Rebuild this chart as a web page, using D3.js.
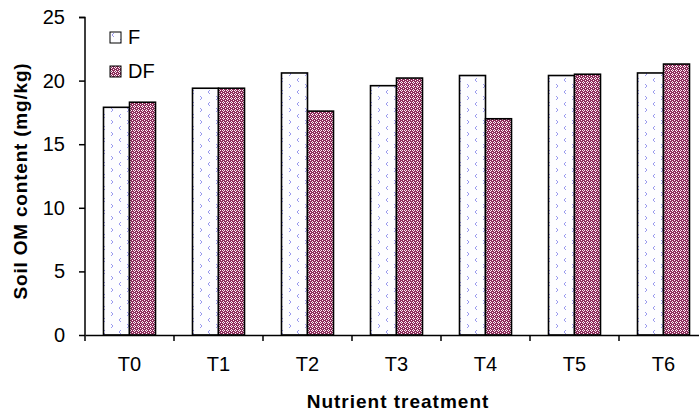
<!DOCTYPE html>
<html>
<head>
<meta charset="utf-8">
<script src="https://cdn.jsdelivr.net/npm/d3@7"></script>
<style>
  body { margin: 0; background: #fff; }
  text { font-family: "Liberation Sans", Arial, sans-serif; }
</style>
</head>
<body>
<svg id="chart" width="699" height="411"></svg>
<script>
// data
var categories = ['T0', 'T1', 'T2', 'T3', 'T4', 'T5', 'T6'];
var seriesF  = [17.9, 19.4, 20.6, 19.6, 20.4, 20.4, 20.6];
var seriesDF = [18.3, 19.4, 17.6, 20.2, 17.0, 20.5, 21.3];
var seriesNames = ['F', 'DF'];
var yTicks = [0, 5, 10, 15, 20, 25];

var margin = {top: 17, right: -9, bottom: 76, left: 85}
  , width = 699
  , height = 411
  , innerW = width - margin.left - margin.right
  , innerH = height - margin.top - margin.bottom;

var svg = d3.select('#chart');
var defs = svg.append('defs');

// dotted chevron fill for F
var pF = defs.append('pattern').attr('id', 'patF')
    .attr('patternUnits', 'userSpaceOnUse').attr('width', 16).attr('height', 12);
pF.append('rect').attr('width', 16).attr('height', 12).attr('fill', '#fdfdff');
pF.append('path').attr('d', 'M4,1 L2,3 L4,5').attr('fill', 'none').attr('stroke', '#9a9aee').attr('stroke-width', 1);
pF.append('path').attr('d', 'M10,7 L12,9 L10,11').attr('fill', 'none').attr('stroke', '#9a9aee').attr('stroke-width', 1);

// checker fill for DF: maroon with small white crosses
var pD = defs.append('pattern').attr('id', 'patDF')
    .attr('patternUnits', 'userSpaceOnUse').attr('width', 4).attr('height', 4);
pD.append('rect').attr('width', 4).attr('height', 4).attr('fill', '#8e2d5c');
[[1, 0], [0, 1], [2, 1], [1, 2], [3, 3]].forEach(function (p) {
  pD.append('rect').attr('x', p[0]).attr('y', p[1]).attr('width', 1).attr('height', 1).attr('fill', '#fff4f8');
});

var fills = ['url(#patF)', 'url(#patDF)'];

var g = svg.append('g').attr('transform', 'translate(' + margin.left + ',' + margin.top + ')');

var x = d3.scaleBand().domain(categories).range([0, innerW]).paddingInner(0).paddingOuter(0);
var xs = d3.scaleBand().domain(seriesNames).range([x.bandwidth() / 2 - 26, x.bandwidth() / 2 + 26]);
var y = d3.scaleLinear().domain([0, 25]).range([innerH, 0]);

// bars
var rows = categories.map(function (c, i) { return {cat: c, vals: [seriesF[i], seriesDF[i]]}; });
var groups = g.selectAll('.grp').data(rows).enter().append('g')
    .attr('transform', function (d) { return 'translate(' + x(d.cat) + ',0)'; });
groups.selectAll('rect').data(function (d) { return d.vals; }).enter().append('rect')
    .attr('x', function (d, i) { return xs(seriesNames[i]); })
    .attr('width', xs.bandwidth())
    .attr('y', function (d) { return y(d); })
    .attr('height', function (d) { return innerH - y(d); })
    .attr('fill', function (d, i) { return fills[i]; })
    .attr('stroke', '#000')
    .attr('stroke-width', 1.6);

// y axis
var yAxis = g.append('g')
    .call(d3.axisLeft(y).tickValues(yTicks).tickSize(6).tickPadding(14).tickFormat(d3.format('d')));
yAxis.select('.domain').attr('stroke', '#000').attr('stroke-width', 1.5).attr('d', 'M-6,0.5H0V' + innerH);
yAxis.selectAll('text').attr('font-size', 20).attr('fill', '#000');
yAxis.selectAll('line').attr('stroke-width', 1.5);

// x axis with ticks between categories
var xAxis = g.append('g').attr('transform', 'translate(0,' + innerH + ')')
    .call(d3.axisBottom(x).tickSize(0).tickPadding(22));
xAxis.select('.domain').attr('stroke', '#000').attr('stroke-width', 1.5);
xAxis.selectAll('text').attr('font-size', 20).attr('fill', '#000');
xAxis.selectAll('.sep').data(categories).enter().append('line')
    .attr('x1', function (d) { return x(d); }).attr('x2', function (d) { return x(d); })
    .attr('y1', 0).attr('y2', 6).attr('stroke', '#000').attr('stroke-width', 1.5);

// axis titles
svg.append('text')
    .attr('x', 398).attr('y', 408)
    .attr('text-anchor', 'middle')
    .attr('font-size', 19).attr('font-weight', 'bold')
    .attr('letter-spacing', 1)
    .text('Nutrient treatment');
svg.append('text')
    .attr('transform', 'translate(27,181) rotate(-90)')
    .attr('text-anchor', 'middle')
    .attr('font-size', 19).attr('font-weight', 'bold')
    .attr('letter-spacing', 0.8)
    .text('Soil OM content (mg/kg)');

// legend
var legend = svg.append('g').attr('transform', 'translate(110,32)');
var item = legend.selectAll('g').data(seriesNames).enter().append('g')
    .attr('transform', function (d, i) { return 'translate(0,' + (i * 34) + ')'; });
item.append('rect').attr('width', 11).attr('height', 11)
    .attr('fill', function (d, i) { return fills[i]; })
    .attr('stroke', '#000').attr('stroke-width', 1);
item.append('text').attr('x', 18).attr('y', 12)
    .attr('font-size', 20).text(function (d) { return d; });
</script>
</body>
</html>
